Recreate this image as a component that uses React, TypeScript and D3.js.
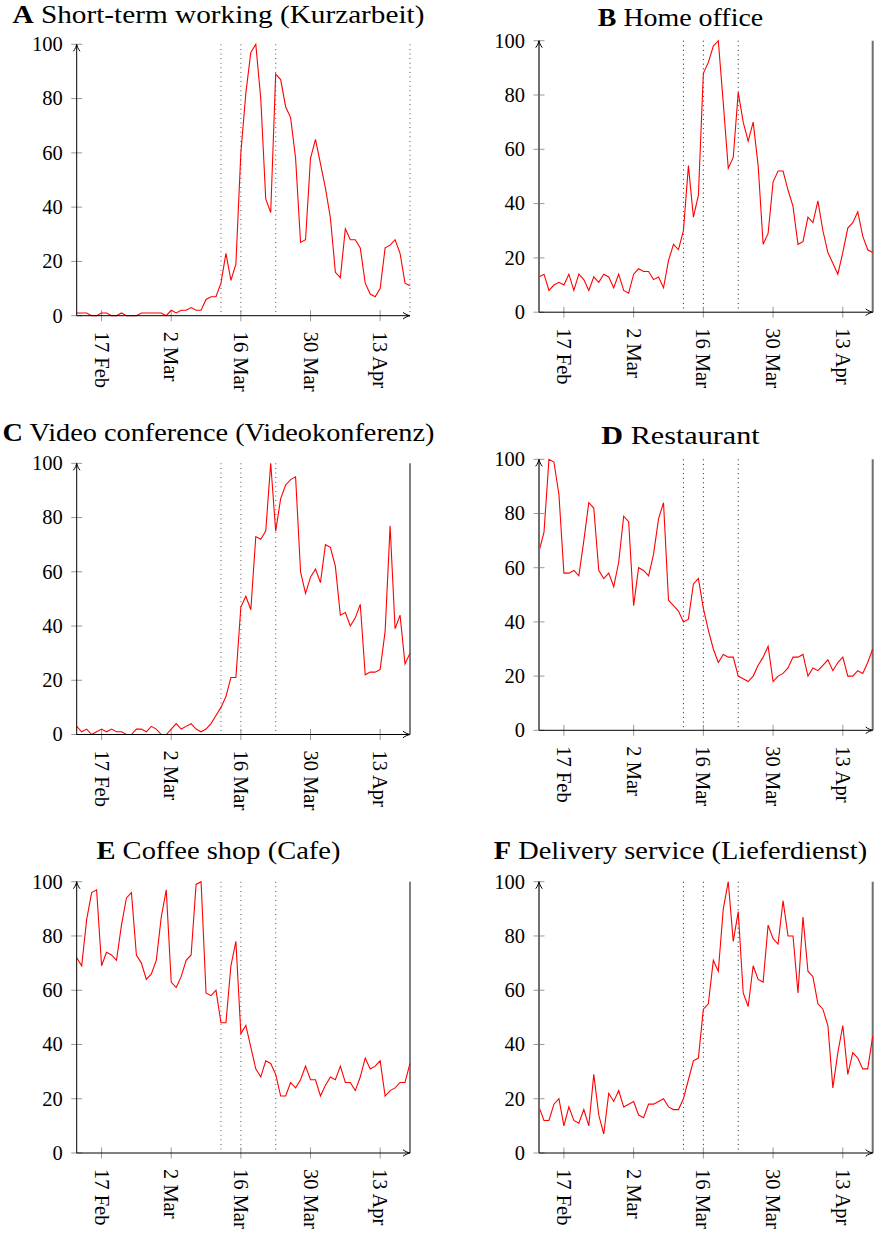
import React from 'react';
import * as d3 from 'd3';

// ---------- data ----------
const startDate = new Date(Date.UTC(2020, 1, 12));
const endDate = new Date(Date.UTC(2020, 3, 20)); // exclusive
const dates: Date[] = d3.utcDay.range(startDate, endDate); // 12 Feb .. 19 Apr

const tickDates = [
  new Date(Date.UTC(2020, 1, 17)),
  new Date(Date.UTC(2020, 2, 2)),
  new Date(Date.UTC(2020, 2, 16)),
  new Date(Date.UTC(2020, 2, 30)),
  new Date(Date.UTC(2020, 3, 13)),
];
const tickLabels = ['17 Feb', '2 Mar', '16 Mar', '30 Mar', '13 Apr'];
const eventDates = [
  new Date(Date.UTC(2020, 2, 12)),
  new Date(Date.UTC(2020, 2, 16)),
  new Date(Date.UTC(2020, 2, 23)),
];
const yTicks = [0, 20, 40, 60, 80, 100];

const kurzarbeit = [
  1, 1, 1, 0, 0, 1, 1, 0, 0, 1, 0, 0, 0, 1, 1, 1, 1, 1, 0, 2,
  1, 2, 2, 3, 2, 2, 6, 7, 7, 12, 23, 13, 19, 60, 82, 97, 100, 80, 43, 38,
  89, 87, 77, 73, 58, 27, 28, 58, 65, 56, 47, 36, 16, 14, 32, 28, 28, 25, 12, 8,
  7, 10, 25, 26, 28, 23, 12, 11,
];
const homeOffice = [
  13, 14, 8, 10, 11, 10, 14, 8, 14, 12, 8, 13, 11, 14, 13, 9, 14, 8, 7, 14,
  16, 15, 15, 12, 13, 9, 19, 25, 23, 30, 54, 35, 43, 88, 92, 98, 100, 77, 53, 57,
  81, 70, 63, 70, 54, 25, 29, 48, 52, 52, 45, 39, 25, 26, 35, 33, 41, 30, 22, 18,
  14, 22, 31, 33, 37, 28, 23, 22,
];
const videoConference = [
  3, 1, 2, 0, 1, 2, 1, 2, 1, 1, 0, 0, 2, 2, 1, 3, 2, 0, 0, 2,
  4, 2, 3, 4, 2, 1, 2, 4, 7, 10, 14, 21, 21, 47, 51, 46, 73, 72, 75, 100,
  75, 87, 92, 94, 95, 60, 52, 58, 61, 56, 70, 69, 62, 44, 45, 40, 43, 48, 22, 23,
  23, 24, 38, 77, 39, 44, 26, 30,
];
const restaurant = [
  66, 73, 100, 99, 87, 58, 58, 59, 57, 70, 84, 82, 59, 56, 58, 53, 62, 79, 77, 46,
  60, 59, 57, 65, 78, 84, 48, 46, 44, 40, 41, 54, 56, 45, 37, 30, 25, 28, 27, 27,
  20, 19, 18, 20, 24, 27, 31, 18, 20, 21, 23, 27, 27, 28, 20, 23, 22, 24, 26, 22,
  25, 27, 20, 20, 22, 21, 25, 30,
];
const cafe = [
  72, 69, 86, 96, 97, 69, 74, 73, 71, 84, 94, 96, 73, 70, 64, 66, 71, 87, 97, 63,
  61, 65, 71, 73, 99, 100, 59, 58, 60, 48, 48, 69, 78, 44, 47, 39, 31, 28, 34, 33,
  29, 21, 21, 26, 24, 27, 32, 27, 27, 21, 25, 28, 27, 32, 26, 26, 23, 28, 35, 31,
  32, 34, 21, 23, 24, 26, 26, 33,
];
const delivery = [
  17, 12, 12, 18, 20, 10, 17, 12, 11, 16, 10, 29, 14, 7, 22, 19, 23, 17, 18, 19,
  14, 13, 18, 18, 19, 20, 17, 16, 16, 20, 27, 34, 35, 53, 55, 71, 67, 90, 100, 78,
  89, 59, 54, 69, 64, 63, 84, 79, 77, 93, 80, 80, 59, 87, 67, 65, 55, 53, 47, 24,
  37, 47, 29, 37, 35, 31, 31, 43,
];

// ---------- layout ----------
type Col = 'left' | 'right';
interface PanelDef {
  letter: string;
  title: string;
  values: number[];
  col: Col;
  top: number;
  bottom: number;
  titleY: number;
  titleW: number;
  rightEdge: 'dotted' | 'black' | 'gray';
}

const panels: PanelDef[] = [
  { letter: 'A', title: 'Short-term working (Kurzarbeit)', values: kurzarbeit, col: 'left', top: 44.3, bottom: 315.7, titleY: 23, titleW: 412, rightEdge: 'dotted' },
  { letter: 'B', title: 'Home office', values: homeOffice, col: 'right', top: 40.7, bottom: 312.2, titleY: 26, titleW: 165.4, rightEdge: 'gray' },
  { letter: 'C', title: 'Video conference (Videokonferenz)', values: videoConference, col: 'left', top: 463.3, bottom: 734.5, titleY: 441, titleW: 432, rightEdge: 'black' },
  { letter: 'D', title: 'Restaurant', values: restaurant, col: 'right', top: 459.3, bottom: 730.3, titleY: 443.5, titleW: 158.3, rightEdge: 'gray' },
  { letter: 'E', title: 'Coffee shop (Cafe)', values: cafe, col: 'left', top: 881.7, bottom: 1153, titleY: 859, titleW: 244, rightEdge: 'black' },
  { letter: 'F', title: 'Delivery service (Lieferdienst)', values: delivery, col: 'right', top: 881.7, bottom: 1153, titleY: 859, titleW: 373.3, rightEdge: 'gray' },
];

const colGeom = {
  left: { x0: 76.7, x1: 410, titleX: 218.5 },
  right: { x0: 539, x1: 872.7, titleX: 680.5 },
};

const FONT = "'Liberation Serif', 'Times New Roman', serif";
const ARROW = 'M-7,-3.3 C-4.6,-1.3 -1.6,-0.35 0,0 C-1.6,0.35 -4.6,1.3 -7,3.3';

function Panel({ p }: { p: PanelDef }) {
  const g = colGeom[p.col];
  const x = d3.scaleUtc().domain([dates[0], dates[dates.length - 1]]).range([g.x0, g.x1]);
  const y = d3.scaleLinear().domain([0, 100]).range([p.bottom, p.top]);
  const line = d3
    .line<number>()
    .x((_, i) => x(dates[i]))
    .y((v) => y(v));

  const isRight = p.col === 'right';
  const dotColor = isRight ? '#000' : '#666';
  const dotWidth = isRight ? 0.9 : 1.1;
  const vAxisColor = isRight ? '#6f6f6f' : '#000';
  const vAxisWidth = isRight ? 2 : 1;

  return (
    <g>
      <text
        x={g.titleX}
        y={p.titleY}
        textAnchor="middle"
        fontFamily={FONT}
        fontSize={24.5}
        textLength={p.titleW}
        lengthAdjust="spacingAndGlyphs"
        fill="#000"
      >
        <tspan fontWeight="bold">{p.letter}</tspan>
        {' ' + p.title}
      </text>

      {/* event lines */}
      {eventDates.map((d, i) => (
        <line
          key={'ev' + i}
          x1={x(d)}
          x2={x(d)}
          y1={p.top}
          y2={p.bottom}
          stroke={dotColor}
          strokeWidth={dotWidth}
          strokeDasharray="1 3.6"
        />
      ))}

      {/* right edge */}
      {p.rightEdge === 'dotted' && (
        <line x1={g.x1} x2={g.x1} y1={p.top} y2={p.bottom} stroke={dotColor} strokeWidth={dotWidth} strokeDasharray="1 3.6" />
      )}
      {p.rightEdge === 'black' && (
        <line x1={g.x1} x2={g.x1} y1={p.top} y2={p.bottom} stroke="#000" strokeWidth={1} />
      )}
      {p.rightEdge === 'gray' && (
        <line x1={g.x1} x2={g.x1} y1={p.top} y2={p.bottom} stroke="#6f6f6f" strokeWidth={2} />
      )}

      {/* y ticks */}
      {yTicks.map((v) => (
        <g key={'yt' + v}>
          <line x1={g.x0 - 5.5} x2={g.x0 + 5.5} y1={y(v)} y2={y(v)} stroke="#999" strokeWidth={1} />
          <text
            x={g.x0 - 14}
            y={y(v) + 6.8}
            textAnchor="end"
            fontFamily={FONT}
            fontSize={20.5}
            fill="#000"
          >
            {v}
          </text>
        </g>
      ))}

      {/* x ticks */}
      {tickDates.map((d, i) => (
        <g key={'xt' + i}>
          <line x1={x(d)} x2={x(d)} y1={p.bottom - 5.5} y2={p.bottom + 5.5} stroke="#999" strokeWidth={1} />
          <text
            transform={`translate(${x(d) - 7},${p.bottom + 16}) rotate(90)`}
            textAnchor="start"
            fontFamily={FONT}
            fontSize={20.5}
            fill="#000"
          >
            {tickLabels[i]}
          </text>
        </g>
      ))}

      {/* data line */}
      <path d={line(p.values) || ''} fill="none" stroke="#ff0000" strokeWidth={1.1} strokeLinejoin="miter" />

      {/* axes */}
      <line x1={g.x0} x2={g.x0} y1={p.bottom} y2={p.top + 0.5} stroke={vAxisColor} strokeWidth={vAxisWidth} />
      <line x1={g.x0} x2={g.x1 - 0.5} y1={p.bottom} y2={p.bottom} stroke="#000" strokeWidth={1} />
      <path d={ARROW} transform={`translate(${g.x0},${p.top}) rotate(-90)`} fill="none" stroke="#000" strokeWidth={1} />
      <path d={ARROW} transform={`translate(${g.x1},${p.bottom})`} fill="none" stroke="#000" strokeWidth={1} />
    </g>
  );
}

export default function App() {
  return (
    <svg
      width={878}
      height={1236}
      viewBox="0 0 878 1236"
      style={{ position: 'absolute', left: 0, top: 0, background: '#fff' }}
    >
      <rect x={0} y={0} width={878} height={1236} fill="#fff" />
      {panels.map((p) => (
        <Panel key={p.letter} p={p} />
      ))}
    </svg>
  );
}
